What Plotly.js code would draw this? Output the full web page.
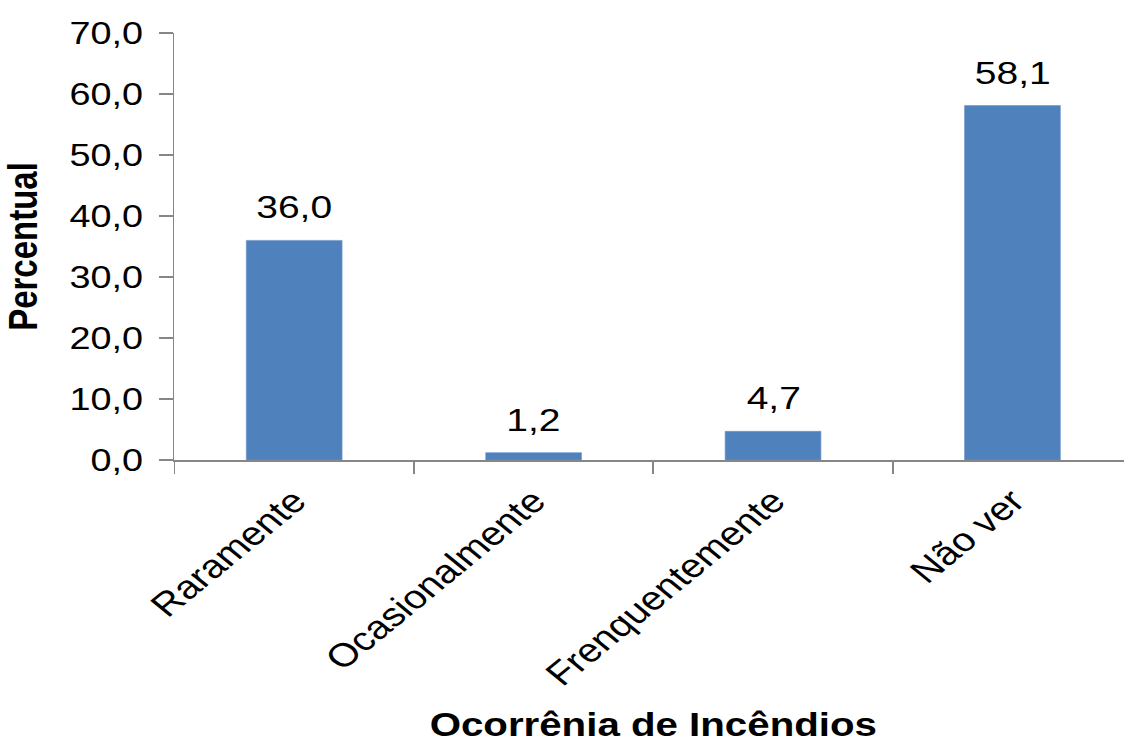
<!DOCTYPE html>
<html>
<head>
<meta charset="utf-8">
<script src="https://cdn.plot.ly/plotly-3.0.1.min.js"></script>
<style>
  html, body { margin: 0; padding: 0; overflow: hidden; background: #ffffff; width: 1124px; height: 743px; }
  /* the chart is laid out narrower and widened horizontally, giving the stretched type of the figure */
  #chart { width: 932px; height: 743px; transform: scaleX(1.22); transform-origin: 0 0; }
</style>
</head>
<body>
<div id="chart"></div>
<script>
// Ocorrência de incêndios: percentual de respostas por categoria
const categories = ['Raramente', 'Ocasionalmente', 'Frenquentemente', 'Não ver'];
const percentuais = [36.0, 1.2, 4.7, 58.1];
const yTickValues = [0, 10, 20, 30, 40, 50, 60, 70];
const xTitle = 'Ocorrênia de Incêndios';
const yTitle = 'Percentual';

const FONT = 'Liberation Sans, Arial, Helvetica, sans-serif';
const AXIS_GREY = '#868686';
const BAR_BLUE = '#4F81BD';

const fmt = v => v.toFixed(1).replace('.', ',');

const trace = {
  type: 'bar',
  x: categories,
  y: percentuais,
  width: 0.4,
  marker: { color: BAR_BLUE, line: { color: '#6d95c8', width: 0.6 } },
  hoverinfo: 'none'
};

// value labels above each bar
const labels = categories.map((c, i) => ({
  x: c,
  y: percentuais[i],
  xref: 'x',
  yref: 'y',
  text: fmt(percentuais[i]),
  showarrow: false,
  yanchor: 'bottom',
  yshift: 13,
  font: { family: FONT, size: 32, color: '#000000' }
}));

const layout = {
  width: 932,
  height: 743,
  margin: { l: 143, r: 4, t: 33, b: 283 },
  paper_bgcolor: '#ffffff',
  plot_bgcolor: '#ffffff',
  separators: ',.',
  showlegend: false,
  bargap: 0.6,
  font: { family: FONT, color: '#000000' },
  xaxis: {
    type: 'category',
    range: [-0.5, 3.5],
    showline: true,
    linecolor: AXIS_GREY,
    linewidth: 1.5,
    ticks: 'outside',
    tickson: 'boundaries',
    ticklen: 12,
    tickwidth: 1.5,
    tickcolor: AXIS_GREY,
    tickangle: -45,
    ticklabelstandoff: 7,
    tickfont: { family: FONT, size: 33, color: '#000000' },
    showgrid: false,
    zeroline: false,
    fixedrange: true,
    title: { text: xTitle, font: { family: FONT, size: 33, color: '#000000', weight: 'bold' }, standoff: 27 }
  },
  yaxis: {
    range: [0, 70],
    tickvals: yTickValues,
    tickformat: '.1f',
    showline: true,
    linecolor: AXIS_GREY,
    linewidth: 1.5,
    ticks: 'outside',
    ticklen: 11,
    tickwidth: 1.5,
    tickcolor: AXIS_GREY,
    ticklabelstandoff: 7,
    tickfont: { family: FONT, size: 31, color: '#000000' },
    showgrid: false,
    zeroline: false,
    fixedrange: true,
    title: { text: yTitle, font: { family: FONT, size: 33, color: '#000000', weight: 'bold' }, standoff: 16 }
  },
  annotations: labels
};

Plotly.newPlot('chart', [trace], layout, { displayModeBar: false, staticPlot: true });
</script>
</body>
</html>
